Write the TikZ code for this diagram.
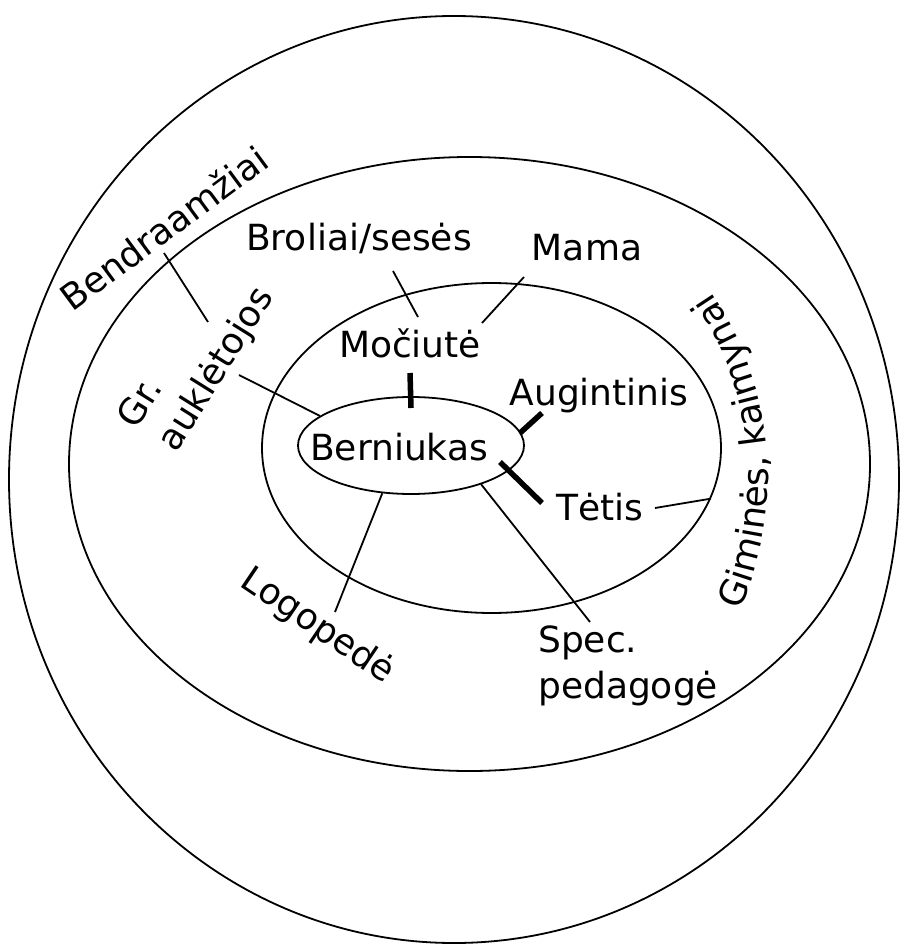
\documentclass[tikz,border=0pt]{standalone}
\usepackage{fontspec}
\setmainfont{DejaVu Sans}
\usetikzlibrary{shapes.geometric,decorations.text}
\newcommand{\bigtxt}{\fontsize{36}{44}\selectfont}
\tikzset{
  ring/.style={draw, ellipse, line width=1.8pt, inner sep=0pt},
  lbl/.style={font=\bigtxt, inner sep=0pt, anchor=base},
  link/.style={line width=1.8pt},
  bar/.style={line width=5.5pt},
}
\begin{document}
\begin{tikzpicture}[x=1pt, y=-1pt]
\useasboundingbox (0,0) rectangle (905,944);
% ellipses
\node[ring, minimum width=890, minimum height=927] (outer) at (454,479.5) {};
\node[ring, minimum width=801, minimum height=614] (middle) at (469.5,464) {};
\node[ring, minimum width=459, minimum height=330] (inner) at (491.5,448) {};
\node[ring, minimum width=226, minimum height=97] (berniukas) at (411,445.5) {};
% labels
\node[lbl] (bt) at (399,460) {Berniukas};
\node[lbl, rotate=36.5] (bendra) at (172,239) {Bendraamžiai};
\node[lbl, rotate=58] (gr) at (150,409) {Gr.};
\node[lbl, rotate=58] (aukl) at (225.5,375) {auklėtojos};
\node[lbl] (broliai) at (359,250) {Broliai/sesės};
\node[lbl] (mama) at (587,260) {Mama};
\node[lbl] (mociute) at (410,357) {Močiutė};
\node[lbl] (augintinis) at (599,405) {Augintinis};
\node[lbl] (tetis) at (600,520) {Tėtis};
\node[lbl, rotate=-34] (logopede) at (312,635) {Logopedė};
\node[lbl, anchor=base west] (spec) at (538,652) {Spec.};
\node[lbl, anchor=base west] (pedagoge) at (538,698) {pedagogė};
\path[decorate, decoration={text along path, text align=center,
    text={|\bigtxt|Giminės, kaimynai}}]
  (439,477) ++(30:329) arc[start angle=30, end angle=-40.4, radius=329];
% connector end points
\coordinate (b1) at (164,253);
\coordinate (b2) at (208,322);
\coordinate (a1) at (239,375);
\coordinate (s1) at (393,271);
\coordinate (s2) at (418,317);
\coordinate (m1) at (524,277);
\coordinate (m2) at (482,323);
\coordinate (k1) at (410,373);
\coordinate (k2) at (411,408);
\coordinate (g1) at (542,413);
\coordinate (g2) at (520,433);
\coordinate (t1) at (500,462);
\coordinate (t2) at (542,503);
\coordinate (t3) at (655,508);
\coordinate (l1) at (335,612);
\coordinate (p1) at (590,622);
% connectors
\draw[link] (b1) -- (b2);
\draw[link] (a1) -- (berniukas.162);
\draw[link] (s1) -- (s2);
\draw[link] (m1) -- (m2);
\draw[bar] (k1) -- (k2);
\draw[bar] (g1) -- (g2);
\draw[bar] (t1) -- (t2);
\draw[link] (t3) -- (inner.-13.4);
\draw[link] (berniukas.-121) -- (l1);
\draw[link] (berniukas.-29) -- (p1);
\end{tikzpicture}
\end{document}
